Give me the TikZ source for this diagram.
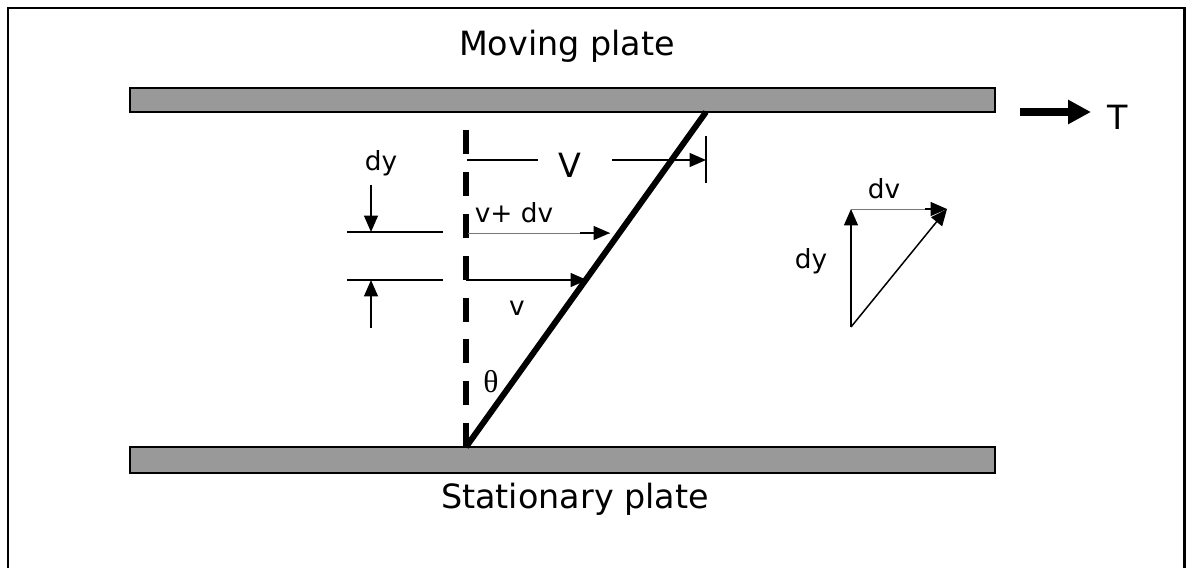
\documentclass[tikz,border=0pt]{standalone}
\usepackage{fontspec}
\setmainfont{DejaVu Sans}
\newfontfamily\greekserif{Liberation Serif}
\usepackage{xcolor}
\usepackage{tikz}
\usetikzlibrary{arrows.meta, positioning, calc}
\definecolor{plategray}{RGB}{153, 153, 153}
\definecolor{hairgray}{RGB}{120, 120, 120}

\begin{document}
\begin{tikzpicture}[
    x=0.02cm, y=-0.02cm,
    plate/.style={draw=black, line width=1.4pt, fill=plategray},
    bigtext/.style={inner sep=0pt, font=\fontsize{19}{21}\selectfont},
    smalltext/.style={inner sep=0pt, font=\fontsize{15}{17}\selectfont},
    arrow/.style={-{Triangle[length=0.33cm, width=0.28cm]}, line width=0.85pt},
    thinline/.style={line width=0.85pt},
    hairline/.style={line width=0.5pt, draw=hairgray},
    profile/.style={line width=3.4pt}
]
\useasboundingbox (0,0) rectangle (1187,568);
\draw[line width=1.7pt] (8,568) -- (8,8) -- (1184,8) -- (1184,568);

\draw[plate] (130,88) rectangle (995,112);
\draw[plate] (130,447) rectangle (995,473);
\node[bigtext, anchor=base] (moving) at (567,55) {Moving plate};
\node[bigtext, anchor=base] (stationary) at (575,508) {Stationary plate};

% velocity profile
\coordinate (base) at (466,447);
\coordinate (top) at (466,130);
\coordinate (tip) at (706,112);
\draw[profile, dash pattern=on 13.6pt off 10.2pt] (base) -- (top);
\draw[profile] (base) -- (tip);
\node[font=\greekserif\fontsize{18}{20}\selectfont, inner sep=0pt] (theta) at (491,382) {θ};

% top velocity
\coordinate (Vstart) at (467,160);
\coordinate (Vleft) at (538,160);
\coordinate (Vright) at (612,160);
\coordinate (Vend) at (706,160);
\coordinate (ticktop) at (706,136);
\coordinate (tickbot) at (706,183);
\node[bigtext] (Vlabel) at (570,165) {V};
\draw[thinline] (Vstart) -- (Vleft);
\draw[arrow] (Vright) -- (Vend);
\draw[thinline] (ticktop) -- (tickbot);

% layer velocities
\coordinate (vdvstart) at (468,233);
\coordinate (vdvend) at (610,233);
\coordinate (vstart) at (466,280);
\coordinate (vend) at (587,280);
\draw[hairline] (vdvstart) -- (vdvend);
\draw[arrow] ($(vdvend)+(-30,0)$) -- (vdvend);
\draw[arrow] (vstart) -- (vend);
\node[smalltext] (vdv) at (514,213) {v+ dv};
\node[smalltext] (vlow) at (517,308) {v};

% layer thickness
\coordinate (upa) at (347,232);
\coordinate (upb) at (443,232);
\coordinate (lowa) at (347,280);
\coordinate (lowb) at (443,280);
\coordinate (dnstart) at (371,185);
\coordinate (dnend) at (371,232);
\coordinate (upstart) at (371,328);
\coordinate (upend) at (371,280);
\draw[thinline] (upa) -- (upb);
\draw[thinline] (lowa) -- (lowb);
\draw[arrow] (dnstart) -- (dnend);
\draw[arrow] (upstart) -- (upend);
\node[smalltext] (dyleft) at (381,163) {dy};

% shear triangle
\coordinate (corner) at (851,327);
\coordinate (upper) at (851,209);
\coordinate (far) at (947,209);
\draw[arrow] (corner) -- (upper);
\draw[hairline] (upper) -- (far);
\draw[arrow] ($(far)+(-22,0)$) -- (far);
\draw[arrow] (corner) -- (far);
\node[smalltext] (dvright) at (884,189) {dv};
\node[smalltext] (dyright) at (811,261) {dy};

% force
\coordinate (Tstart) at (1020,112);
\coordinate (Tend) at (1091,112);
\draw[line width=4.5pt, -{Triangle[length=0.46cm, width=0.46cm]}] (Tstart) -- (Tend);
\node[bigtext] (Tlabel) at (1118,117) {T};
\end{tikzpicture}
\end{document}
